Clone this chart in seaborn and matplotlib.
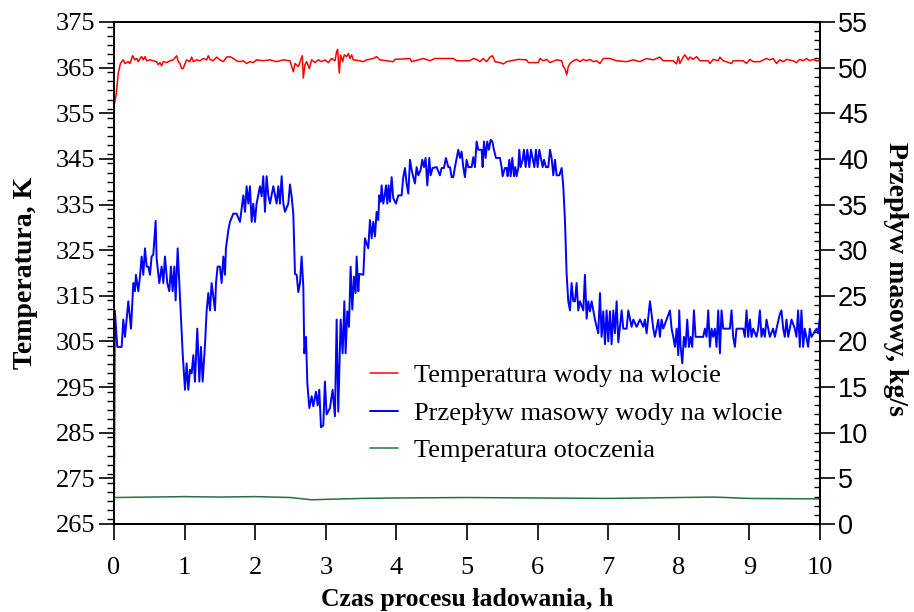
import matplotlib
matplotlib.use("Agg")
import matplotlib.pyplot as plt
import seaborn as sns
from matplotlib.ticker import MultipleLocator
from matplotlib.lines import Line2D

# ---------------- data ----------------
flow_time = [
    0.0, 0.012, 0.047, 0.109, 0.132, 0.156, 0.203, 0.241, 0.274, 0.297, 0.311, 0.345, 0.368, 0.392,
    0.415, 0.439, 0.463, 0.486, 0.510, 0.533, 0.557, 0.590, 0.604, 0.642, 0.675, 0.699, 0.722, 0.755,
    0.784, 0.807, 0.831, 0.855, 0.873, 0.902, 0.925, 0.944, 0.973, 1.006, 1.029, 1.053, 1.076, 1.100,
    1.124, 1.147, 1.180, 1.209, 1.232, 1.256, 1.289, 1.313, 1.336, 1.360, 1.383, 1.431, 1.445, 1.468,
    1.501, 1.525, 1.549, 1.572, 1.586, 1.620, 1.643, 1.690, 1.737, 1.785, 1.832, 1.856, 1.879, 1.903,
    1.926, 1.950, 1.973, 1.997, 2.020, 2.068, 2.091, 2.115, 2.139, 2.162, 2.186, 2.210, 2.257, 2.304,
    2.328, 2.351, 2.375, 2.399, 2.422, 2.469, 2.493, 2.516,
    2.540, 2.564, 2.588, 2.611, 2.635, 2.658, 2.682, 2.696, 2.720, 2.739, 2.767, 2.800, 2.823, 2.861,
    2.885, 2.908, 2.932, 2.965, 2.988, 3.012, 3.059, 3.097, 3.130, 3.154, 3.177, 3.211, 3.239, 3.263,
    3.281, 3.305, 3.329, 3.352, 3.376, 3.399, 3.423, 3.437, 3.461, 3.475, 3.532, 3.555, 3.602, 3.626,
    3.650, 3.673, 3.697, 3.720, 3.744, 3.758, 3.777, 3.791, 3.815, 3.838, 3.853, 3.871, 3.890, 3.909,
    3.933, 3.956, 3.994, 4.027, 4.074, 4.098, 4.122, 4.145, 4.169, 4.193, 4.216, 4.240, 4.263, 4.287,
    4.311, 4.344, 4.367, 4.391, 4.414, 4.438, 4.466, 4.485, 4.513, 4.570, 4.617, 4.641, 4.674, 4.702,
    4.736, 4.759, 4.783, 4.806, 4.830, 4.877, 4.901, 4.924, 4.948, 4.971, 4.995, 5.019,
    5.066, 5.090, 5.113, 5.137, 5.160, 5.208, 5.222, 5.241, 5.264, 5.288, 5.311, 5.335, 5.359, 5.382,
    5.411, 5.467, 5.491, 5.505, 5.538, 5.562, 5.576, 5.600, 5.619, 5.642, 5.666, 5.685, 5.703, 5.727,
    5.741, 5.760, 5.789, 5.807, 5.831, 5.855, 5.883, 5.907, 5.930, 5.954, 5.977, 6.001, 6.025, 6.048,
    6.072, 6.091, 6.119, 6.152, 6.176, 6.199, 6.223, 6.247, 6.270, 6.308, 6.341, 6.364, 6.388, 6.411,
    6.435, 6.459, 6.482, 6.506, 6.530, 6.553, 6.577, 6.600, 6.648, 6.671, 6.695, 6.718, 6.742, 6.766,
    6.789, 6.813, 6.837, 6.860, 6.884, 6.907, 6.931, 6.955, 6.978, 7.002, 7.025, 7.049, 7.073, 7.096,
    7.120, 7.144, 7.191, 7.214, 7.262, 7.285, 7.332, 7.356, 7.403, 7.451, 7.498, 7.521, 7.545, 7.592,
    7.615, 7.639, 7.662, 7.686, 7.710, 7.733, 7.757, 7.780, 7.828, 7.875, 7.899, 7.922, 7.946, 7.970,
    7.993, 8.007, 8.026, 8.050, 8.073, 8.097, 8.120, 8.144, 8.168, 8.191, 8.215, 8.238, 8.347, 8.370,
    8.394, 8.418, 8.441, 8.465, 8.488, 8.512, 8.535, 8.559, 8.583, 8.606, 8.630, 8.724, 8.748, 8.771,
    8.795, 8.818, 8.913, 8.936, 8.960, 8.983, 9.007, 9.031, 9.054, 9.101, 9.125, 9.149, 9.172, 9.196,
    9.219, 9.243, 9.290, 9.337, 9.361, 9.385, 9.432, 9.455, 9.479, 9.502, 9.526, 9.550, 9.597, 9.644,
    9.667, 9.691, 9.715, 9.738, 9.762, 9.785, 9.833, 9.856, 9.880, 9.951, 9.974, 9.998,
]
flow_kgs = [
    0.0, 23.4, 19.4, 19.4, 22.4, 20.5, 24.4, 21.4, 26.4, 25.5, 27.3, 25.5, 27.1, 29.3,
    27.3, 30.2, 28.2, 28.2, 27.3, 29.3, 29.5, 33.2, 29.1, 26.4, 28.2, 26.4, 29.3, 26.4,
    25.5, 28.2, 25.5, 28.2, 24.5, 30.2, 26.4, 23.4, 18.7, 14.7, 17.6, 14.7, 16.9, 16.5,
    18.5, 15.6, 21.4, 15.6, 19.4, 15.6, 19.6, 23.4, 25.3, 23.4, 26.4, 23.4, 26.4, 28.2,
    28.2, 26.4, 29.3, 27.3, 30.2, 32.2, 33.1, 34.0, 34.0, 33.1, 36.0, 34.2, 37.0, 35.1,
    37.0, 33.1, 35.1, 33.1, 35.1, 37.0, 35.9, 38.1, 34.2, 38.1, 36.0, 35.1, 37.0, 35.1,
    37.0, 35.1, 38.1, 35.1, 34.2, 35.1, 37.2, 35.9,
    34.0, 27.4, 27.3, 25.4, 26.4, 29.3, 26.0, 18.7, 20.5, 15.4, 12.7, 14.0, 12.9, 14.5,
    13.0, 14.7, 10.6, 10.8, 15.6, 12.0, 12.7, 14.7, 11.8, 22.4, 12.3, 22.4, 18.7, 24.4,
    18.7, 23.3, 21.6, 28.2, 23.5, 27.1, 25.3, 29.3, 25.5, 27.4, 27.3, 31.3, 30.2, 33.3,
    31.3, 33.1, 31.5, 34.2, 33.3, 36.0, 35.3, 37.1, 35.1, 36.2, 37.1, 35.1, 37.1, 35.3,
    38.0, 35.7, 35.1, 36.0, 36.0, 38.0, 39.0, 37.3, 36.2, 39.9, 38.8, 38.0, 37.3, 39.1,
    38.2, 38.8, 39.9, 39.1, 40.1, 37.1, 40.1, 38.2, 39.0, 39.1, 38.2, 39.0, 39.0, 40.1,
    39.1, 39.1, 38.0, 38.0, 39.1, 41.0, 40.1, 40.8, 39.1, 38.0, 39.9, 39.1,
    39.1, 40.2, 39.1, 41.9, 41.0, 41.0, 39.1, 41.9, 40.1, 41.9, 41.0, 42.1, 41.9, 41.0,
    40.1, 40.1, 39.1, 38.1, 39.0, 39.0, 38.1, 39.9, 38.1, 40.1, 38.1, 39.1, 38.1, 39.0,
    41.0, 39.1, 39.9, 41.0, 39.1, 41.0, 39.1, 41.0, 40.1, 39.1, 41.0, 39.1, 41.0, 40.1,
    39.1, 39.9, 39.1, 39.1, 41.0, 40.1, 38.2, 39.9, 38.2, 38.2, 39.0, 37.0, 33.3, 27.5,
    24.4, 23.4, 26.4, 24.4, 24.4, 26.4, 23.4, 24.4, 23.4, 27.3, 22.5, 24.4, 23.3, 24.4,
    23.4, 22.4, 21.6, 20.9, 25.3, 20.5, 23.3, 19.7, 23.4, 20.0, 23.3, 19.7, 23.4, 20.9,
    24.4, 19.9, 23.4, 21.4, 21.4, 23.4, 21.6, 22.4, 21.6, 22.4, 21.6, 22.4, 20.9, 24.4,
    23.0, 21.4, 20.5, 21.4, 22.4, 20.5, 22.4, 21.4, 22.4, 23.4, 21.4, 20.5, 19.4, 21.4,
    18.5, 23.4, 19.4, 17.6, 20.5, 19.4, 22.4, 19.4, 20.5, 19.4, 23.4, 20.5, 20.5, 21.4,
    20.5, 23.4, 19.4, 21.4, 20.5, 21.4, 19.4, 23.4, 18.7, 23.4, 21.4, 21.4, 23.4, 20.5,
    19.4, 21.4, 21.4, 20.5, 23.4, 20.5, 22.4, 20.5, 21.4, 20.5, 21.4, 23.4, 20.5, 21.4,
    20.5, 22.4, 20.5, 21.4, 20.5, 21.4, 23.0, 23.4, 21.4, 20.5, 22.4, 20.5, 22.4, 21.4,
    20.5, 23.4, 19.4, 23.4, 19.4, 21.4, 19.4, 21.4, 20.5, 21.4, 20.9, 22.6,
]

inlet_time = [
    0.0, 0.03, 0.061, 0.09, 0.109, 0.132, 0.156, 0.203, 0.227, 0.264, 0.297, 0.321, 0.345, 0.368,
    0.392, 0.415, 0.439, 0.463, 0.510, 0.557, 0.604, 0.628, 0.652, 0.675, 0.699, 0.746, 0.793, 0.840,
    0.888, 0.911, 0.935, 0.958, 0.982, 1.006, 1.029, 1.076, 1.100, 1.124, 1.171, 1.218, 1.265, 1.313,
    1.336, 1.360, 1.407, 1.454, 1.501, 1.549, 1.596, 1.643, 1.690, 1.737, 1.785, 1.832, 1.879, 1.926,
    1.973, 2.020, 2.115, 2.210, 2.304, 2.399, 2.493, 2.540, 2.564, 2.611, 2.635, 2.668, 2.682, 2.705,
    2.729, 2.767, 2.800, 2.847, 2.894, 2.941, 2.989, 3.036, 3.083, 3.130, 3.154, 3.168, 3.192, 3.210,
    3.239, 3.262, 3.296, 3.319, 3.343, 3.367, 3.390, 3.485, 3.532, 3.579, 3.674, 3.721, 3.768, 3.957,
    3.980, 4.193, 4.216, 4.382, 4.477, 4.547, 4.807, 4.854, 4.950, 5.040,
    5.090, 5.137, 5.184, 5.231, 5.278, 5.326, 5.363, 5.397, 5.468, 5.515, 5.562, 5.727, 5.845, 5.869,
    6.010, 6.034, 6.081, 6.128, 6.176, 6.270, 6.341, 6.364, 6.388, 6.412, 6.435, 6.459, 6.506, 6.553,
    6.600, 6.648, 6.695, 6.742, 6.789, 6.836, 6.884, 6.931, 7.025, 7.119, 7.261, 7.356, 7.450, 7.544,
    7.639, 7.733, 7.780, 7.922, 7.969, 7.993, 8.016, 8.063, 8.087, 8.134, 8.158, 8.205, 8.252, 8.299,
    8.417, 8.441, 8.488, 8.559, 8.583, 8.630, 8.748, 8.771, 8.913, 8.960, 9.007, 9.054, 9.149, 9.243,
    9.290, 9.337, 9.385, 9.432, 9.479, 9.526, 9.620, 9.667, 9.714, 9.762, 9.809, 9.856, 9.903, 9.950,
    10.0,
]
inlet_temp = [
    356.5, 359.0, 363.8, 365.8, 366.3, 366.7, 365.9, 366.3, 365.9, 367.6, 366.7, 367.0, 366.3, 367.0,
    367.4, 366.7, 367.4, 366.5, 366.7, 366.5, 366.3, 365.6, 366.1, 365.4, 366.3, 366.1, 366.5, 366.7,
    367.6, 366.3, 365.9, 364.8, 364.8, 365.9, 366.7, 366.3, 367.3, 366.3, 366.7, 366.5, 367.0, 366.7,
    367.6, 366.8, 366.5, 367.3, 366.7, 366.3, 367.3, 367.4, 367.0, 366.5, 366.3, 366.5, 365.9, 366.3,
    366.1, 366.7, 366.5, 366.7, 366.3, 366.7, 366.5, 364.1, 365.9, 365.2, 366.3, 367.6, 362.7, 365.6,
    366.3, 364.8, 366.7, 366.1, 366.7, 366.3, 366.7, 366.1, 367.0, 366.5, 368.5, 369.0, 363.8, 367.8,
    366.3, 367.8, 367.4, 368.1, 367.0, 367.8, 366.7, 366.5, 366.3, 366.7, 367.0, 367.4, 366.7, 366.3,
    366.8, 367.0, 366.3, 367.0, 366.5, 367.0, 367.0, 366.5, 366.5, 366.5,
    367.0, 366.8, 366.3, 367.0, 366.3, 367.3, 367.6, 366.3, 366.1, 365.8, 366.3, 366.8, 366.7, 366.1,
    366.1, 367.0, 366.5, 366.8, 366.1, 366.7, 366.5, 365.2, 364.8, 363.4, 365.2, 365.9, 366.5, 366.8,
    366.3, 366.8, 366.5, 366.8, 366.3, 366.5, 365.9, 367.0, 367.0, 366.5, 366.3, 366.7, 366.3, 367.0,
    366.7, 367.3, 366.5, 366.5, 365.8, 367.4, 365.9, 367.3, 367.8, 366.7, 367.3, 366.8, 367.4, 366.5,
    366.5, 365.9, 366.8, 366.5, 367.3, 366.5, 365.9, 366.5, 366.5, 365.9, 366.8, 366.3, 366.3, 367.0,
    366.7, 367.0, 365.9, 366.7, 366.3, 366.8, 366.5, 366.1, 366.8, 366.5, 367.0, 366.5, 366.8, 366.5,
    366.5,
]

ambient_time = [0.0, 0.5, 1.0, 1.5, 2.0, 2.5, 2.8, 3.0, 3.5, 4.0, 5.0, 6.0, 7.0, 8.0, 8.5, 9.0, 10.0]
ambient_temp = [270.8, 270.9, 271.0, 270.9, 271.0, 270.8, 270.3, 270.4, 270.6, 270.7, 270.8, 270.7,
                270.6, 270.8, 270.9, 270.6, 270.5]

x_ticks = list(range(0, 11))
temp_ticks = list(range(265, 376, 10))
flow_ticks = list(range(0, 56, 5))

label_inlet = "Temperatura wody na wlocie"
label_flow = "Przepływ masowy wody na wlocie"
label_ambient = "Temperatura otoczenia"

# ---------------- style ----------------
sns.set_theme(style="ticks")
plt.rcParams['font.family'] = ['Liberation Serif', 'DejaVu Serif']
plt.rcParams.update({
    'axes.linewidth': 1.4,
    'text.color': 'black',
    'axes.labelcolor': 'black',
    'axes.edgecolor': 'black',
    'xtick.color': 'black',
    'ytick.color': 'black',
    'xtick.labelcolor': 'black',
    'ytick.labelcolor': 'black',
})

RED = "#ff0000"
BLUE = "#0000ff"
GREEN = "#23713f"

fig = plt.figure(figsize=(9.14, 6.12), dpi=100)
ax = fig.add_axes([0.1247, 0.1438, 0.7724, 0.8203])
ax2 = ax.twinx()

sns.lineplot(x=inlet_time, y=inlet_temp, ax=ax, color=RED, lw=1.1,
             estimator=None, sort=False)
sns.lineplot(x=ambient_time, y=ambient_temp, ax=ax, color=GREEN, lw=1.1,
             estimator=None, sort=False)
sns.lineplot(x=flow_time, y=flow_kgs, ax=ax2, color=BLUE, lw=1.4,
             estimator=None, sort=False)

ax.set_xlim(0, 10)
ax.set_ylim(265, 375)
ax2.set_ylim(0, 55)

for spine in list(ax.spines.values()) + list(ax2.spines.values()):
    spine.set_color("black")
    spine.set_linewidth(1.4)

# x axis
ax.set_xticks(x_ticks)
ax.set_xticklabels([str(v) for v in x_ticks], fontsize=19, color='black')
ax.tick_params(axis='x', which='major', direction='out', length=11.5, width=1.2,
               top=False, color='black', labelcolor='black', pad=12)

# left y axis
ax.set_yticks(temp_ticks)
ax.set_yticklabels([str(v) for v in temp_ticks], fontsize=19, color='black')
ax.yaxis.set_minor_locator(MultipleLocator(2))
ax.tick_params(axis='y', which='major', direction='out', length=10.5, width=1.2,
               color='black', labelcolor='black', pad=3)
ax.tick_params(axis='y', which='minor', direction='out', length=5, width=1.0,
               color='black')

# right y axis
ax2.set_yticks(flow_ticks)
ax2.set_yticklabels([str(v) for v in flow_ticks], fontsize=19.5,
                    fontfamily='Liberation Sans', color='black')
ax2.yaxis.set_minor_locator(MultipleLocator(1))
ax2.yaxis.remove_overlapping_locs = False
ax2.tick_params(axis='y', which='major', direction='out', length=11, width=1.2,
                color='black', labelcolor='black', pad=2)
ax2.tick_params(axis='y', which='minor', direction='in', length=4.5, width=1.0,
                color='black')

ax.set_xlabel("Czas procesu ładowania, h", fontsize=18.5, fontweight='bold',
              color='black')
ax.xaxis.set_label_coords(0.5, -0.127)
ax.set_ylabel("Temperatura, K", fontsize=20, fontweight='bold', color='black')
ax.yaxis.set_label_coords(-0.108, 0.5)
ax2.set_ylabel("Przepływ masowy, kg/s", fontsize=20, fontweight='bold',
               rotation=270, color='black')
ax2.yaxis.set_label_coords(1.125, 0.488)

handles = [Line2D([], [], color=RED, lw=1.1),
           Line2D([], [], color=BLUE, lw=1.4),
           Line2D([], [], color=GREEN, lw=1.1)]
leg = ax2.legend(handles, [label_inlet, label_flow, label_ambient],
                 loc='center left', bbox_to_anchor=(0.3626, 0.221), frameon=False,
                 fontsize=19, borderpad=0, borderaxespad=0, handlelength=1.05,
                 handletextpad=0.6, labelspacing=0.53)
for txt in leg.get_texts():
    txt.set_color('black')

fig.savefig("out.png", dpi=100)
